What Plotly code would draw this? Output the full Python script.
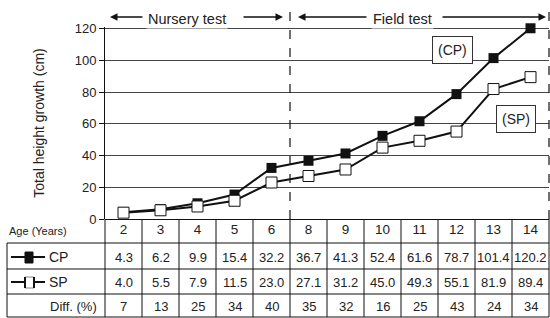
import plotly.graph_objects as go

ages = ["2", "3", "4", "5", "6", "8", "9", "10", "11", "12", "13", "14"]
cp = [4.3, 6.2, 9.9, 15.4, 32.2, 36.7, 41.3, 52.4, 61.6, 78.7, 101.4, 120.2]
sp = [4.0, 5.5, 7.9, 11.5, 23.0, 27.1, 31.2, 45.0, 49.3, 55.1, 81.9, 89.4]
diff = [7, 13, 25, 34, 40, 35, 32, 16, 25, 43, 24, 34]
y_ticks = [0, 20, 40, 60, 80, 100, 120]

FONT = "Arial, Liberation Sans, sans-serif"
TXT = "#222"

L, R, T, B = 105, 1, 27, 99
W, H = 550, 318
PW = W - L - R
PH = H - T - B


def px(X):
    return (X - L) / PW


def py(Y):
    return (H - B - Y) / PH


fig = go.Figure()
fig.add_trace(go.Scatter(
    x=ages, y=cp, mode="lines+markers", name="CP",
    line=dict(color="#111", width=2),
    marker=dict(symbol="square", size=10, color="#111"),
    cliponaxis=False, showlegend=False))
fig.add_trace(go.Scatter(
    x=ages, y=sp, mode="lines+markers", name="SP",
    line=dict(color="#111", width=2),
    marker=dict(symbol="square", size=11, color="white",
                line=dict(color="#111", width=1)),
    cliponaxis=False, showlegend=False))

shapes = []
ann = []
n = len(ages)

# table horizontal lines
for Y in [243, 269, 294, 317]:
    shapes.append(dict(type="line", xref="paper", yref="paper",
                       x0=px(7), x1=1, y0=py(Y), y1=py(Y),
                       line=dict(color="#111", width=1)))
# table vertical lines
for k in range(n + 1):
    shapes.append(dict(type="line", xref="paper", yref="paper",
                       x0=k / n, x1=k / n, y0=0, y1=py(317),
                       line=dict(color="#111", width=1)))
shapes.append(dict(type="line", xref="paper", yref="paper",
                   x0=px(7), x1=px(7), y0=py(243), y1=py(317),
                   line=dict(color="#111", width=1)))

# dashed separators
for xp in [5 / n, 1.0]:
    shapes.append(dict(type="line", xref="paper", yref="paper",
                       x0=xp, x1=xp, y0=0, y1=py(4),
                       line=dict(color="#111", width=1.2, dash="dash")))

# legend symbols in table
for Y in [257, 282]:
    shapes.append(dict(type="line", xref="paper", yref="paper",
                       x0=px(11), x1=px(45), y0=py(Y), y1=py(Y),
                       line=dict(color="#111", width=2)))
shapes.append(dict(type="rect", xref="paper", yref="paper",
                   x0=px(25), x1=px(33), y0=py(252), y1=py(263),
                   fillcolor="#111", line=dict(color="#111", width=1)))
shapes.append(dict(type="rect", xref="paper", yref="paper",
                   x0=px(25), x1=px(34), y0=py(277), y1=py(288),
                   fillcolor="white", line=dict(color="#888", width=1)))
for Xb in [25, 34]:
    shapes.append(dict(type="line", xref="paper", yref="paper",
                       x0=px(Xb), x1=px(Xb), y0=py(277), y1=py(288),
                       line=dict(color="#111", width=2)))

# row labels
ann.append(dict(text="Age (Years)", xref="paper", yref="paper", x=px(7), y=py(231),
                xanchor="left", yanchor="middle", showarrow=False,
                font=dict(size=11, color=TXT, family=FONT)))
ann.append(dict(text="CP", xref="paper", yref="paper", x=px(47), y=py(257),
                xanchor="left", yanchor="middle", showarrow=False,
                font=dict(size=14, color=TXT, family=FONT)))
ann.append(dict(text="SP", xref="paper", yref="paper", x=px(47), y=py(282),
                xanchor="left", yanchor="middle", showarrow=False,
                font=dict(size=14, color=TXT, family=FONT)))
ann.append(dict(text="Diff. (%)", xref="paper", yref="paper", x=px(99), y=py(306),
                xanchor="right", yanchor="middle", showarrow=False,
                font=dict(size=13, color=TXT, family=FONT)))

for row, Y in [(cp, 257), (sp, 282), (diff, 306)]:
    for i, v in enumerate(row):
        s = f"{v:.1f}" if isinstance(v, float) else str(v)
        ann.append(dict(text=s, xref="x", yref="paper", x=i, y=py(Y),
                        xanchor="center", yanchor="middle", showarrow=False,
                        font=dict(size=13, color=TXT, family=FONT)))

# Series labels
ann.append(dict(text="(CP)", xref="paper", yref="paper", x=px(452), y=py(50),
                xanchor="center", yanchor="middle",
                showarrow=False, bordercolor="#333", borderwidth=1, borderpad=5,
                bgcolor="white", font=dict(size=14, color=TXT, family=FONT)))
ann.append(dict(text="(SP)", xref="paper", yref="paper", x=px(516), y=py(119),
                xanchor="center", yanchor="middle",
                showarrow=False, bordercolor="#333", borderwidth=1, borderpad=5,
                bgcolor="white", font=dict(size=14, color=TXT, family=FONT)))

# Section headings with arrows
ann.append(dict(text="Nursery test", xref="paper", yref="paper", x=px(187), y=py(19),
                xanchor="center", yanchor="middle", bgcolor="white",
                showarrow=False, font=dict(size=14.5, color=TXT, family=FONT)))
ann.append(dict(text="Field test", xref="paper", yref="paper", x=px(402), y=py(19),
                xanchor="center", yanchor="middle", bgcolor="white",
                showarrow=False, font=dict(size=14.5, color=TXT, family=FONT)))
for head, tail in [(110, 144), (283, 242), (298, 368), (546, 441)]:
    ann.append(dict(text="", xref="paper", yref="paper", x=px(head), y=py(17),
                    ax=tail - head, ay=0, axref="pixel", ayref="pixel",
                    showarrow=True, arrowhead=2, arrowsize=1, arrowwidth=1.5,
                    arrowcolor="#111"))

fig.update_layout(
    width=W, height=H,
    margin=dict(l=L, r=R, t=T, b=B, pad=0),
    paper_bgcolor="white", plot_bgcolor="white",
    font=dict(family=FONT, size=13, color=TXT),
    shapes=shapes, annotations=ann,
    xaxis=dict(type="category", categoryorder="array", categoryarray=ages,
               range=[-0.5, n - 0.5], showgrid=False, showline=False,
               zeroline=False, ticks="", tickfont=dict(size=13.5, color=TXT),
               fixedrange=True, automargin=False),
    yaxis=dict(range=[0, 121], tickvals=y_ticks, showgrid=True,
               gridcolor="#444", gridwidth=1, showline=True, linecolor="#111",
               linewidth=1, ticks="outside", ticklen=5, tickcolor="#111",
               zeroline=True, zerolinecolor="#111", zerolinewidth=1,
               tickfont=dict(size=13, color=TXT), automargin=False,
               fixedrange=True,
               title=dict(text="Total height growth (cm)", standoff=26,
                          font=dict(size=14, color=TXT))),
)

fig.write_html("out.html", config={"displayModeBar": False},
               post_script="document.body.style.margin='0px';document.body.style.padding='0px';")
